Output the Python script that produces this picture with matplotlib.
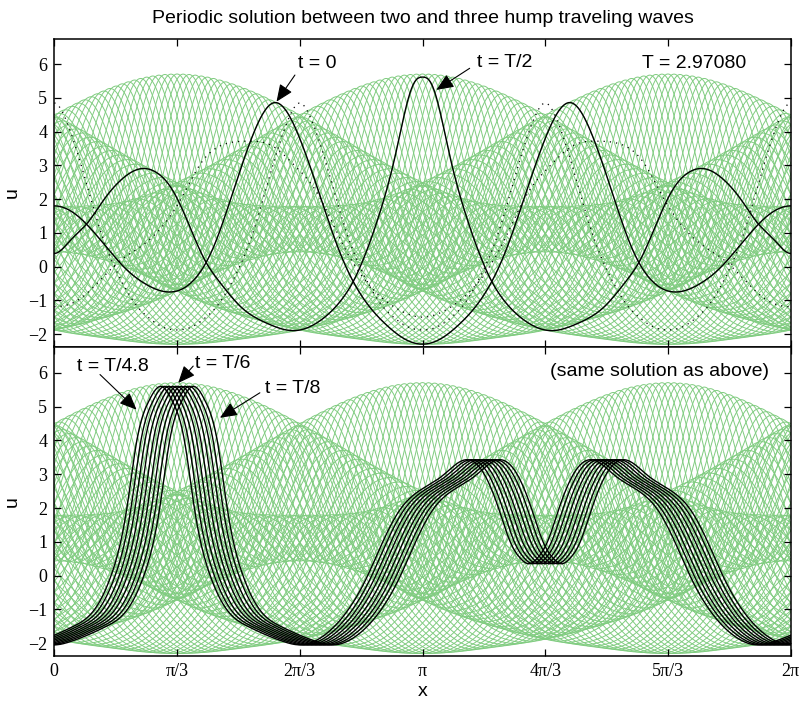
import numpy as np
import matplotlib
matplotlib.use("Agg")
import matplotlib.pyplot as plt

PI = np.pi

# ---- values ----
# t = 0 profile, read on [0, pi] (symmetric about 0 and pi)
T0_X = [0, 0.17, 0.37, 0.62, 0.77, 0.96, 1.19, 1.36, 1.53, 1.70, 1.873, 2.10,
        2.27, 2.44, 2.61, 2.84, 2.99, PI]
T0_U = [1.80, 1.58, 0.89, -0.10, -0.50, -0.75, -0.40, 0.59, 2.27, 3.95, 4.86,
        3.75, 2.07, 0.39, -0.80, -1.75, -2.15, -2.30]

# t = T/2 profile, read on [0, pi]
TH_X = [0, 0.14, 0.28, 0.42, 0.57, 0.68, 0.765, 0.88, 0.99, 1.13, 1.28, 1.42,
        1.59, 1.82, 2.04, 2.27, 2.44, 2.56, 2.69, 2.80, 2.91, 3.01, 3.07, PI]
TH_U = [0.39, 0.79, 1.28, 1.97, 2.57, 2.84, 2.91, 2.77, 2.37, 1.40, 0.22,
        -0.50, -1.19, -1.69, -1.90, -1.60, -1.03, -0.38, 0.70, 1.85, 3.30,
        4.85, 5.45, 5.62]

# t = T/6 profile (bottom panel, middle curve), read on [pi/3, 4pi/3]
T6_X = [PI / 3, 1.15, 1.25, 1.335, 1.47, 1.61, 1.79, 2.094, 2.25, 2.45, 2.65,
        2.80, 2.93, 3.08, 3.23, 3.45, 3.657, 3.80, 3.93, 4.03, 4.12, 4 * PI / 3]
T6_U = [5.60, 5.15, 4.00, 2.00, 0.00, -1.00, -1.50, -1.95, -2.05, -1.75, -1.00,
        -0.10, 0.90, 1.90, 2.45, 2.95, 3.43, 3.05, 2.00, 1.00, 0.50, 0.35]
# x-offsets of the nine bottom curves (t = T/8 ... T/4.8) from the T/6 one
BOTTOM_SHIFTS = [0.14, 0.105, 0.07, 0.035, 0.0, -0.035, -0.07, -0.105, -0.14]

# dotted: three hump wave, distance from crest on [0, pi/3]
HUMP3_D = [0, 0.1, 0.2, 0.3, 0.4, 0.5, 0.6, 0.7, 0.8, 0.9, PI / 3]
HUMP3_U = [4.85, 4.35, 3.35, 2.15, 1.00, 0.10, -0.60, -1.15, -1.50, -1.75, -1.88]

# dotted: second wave, read on [0, pi]
DOT2_X = [0, 0.2, 0.57, 0.74, 1.08, 1.25, 1.47, 1.66, 1.85, 2.05, 2.24, 2.47,
          2.70, 2.95, PI]
DOT2_U = [-1.19, -1.00, 0.20, 0.60, 2.00, 3.06, 3.65, 3.72, 3.60, 3.00, 2.20,
          0.60, -0.60, -1.30, -1.50]

T_PERIOD = "2.97080"
N_FRAMES = 96

XTICK_LABELS = ["0", "π/3", "2π/3", "π", "4π/3", "5π/3", "2π"]

GREEN = "#80cc80"


def periodic_spline(xk, yk, xq, period=2 * PI):
    """Periodic cubic spline through (xk, yk)."""
    xk = np.asarray(xk, float)
    yk = np.asarray(yk, float)
    n = len(xk)
    h = np.diff(np.append(xk, xk[0] + period))
    A = np.zeros((n, n))
    r = np.zeros(n)
    for i in range(n):
        hm, hp = h[i - 1], h[i]
        A[i, (i - 1) % n] += hm / 6
        A[i, i] += (hm + hp) / 3
        A[i, (i + 1) % n] += hp / 6
        r[i] = (yk[(i + 1) % n] - yk[i]) / hp - (yk[i] - yk[i - 1]) / hm
    M = np.linalg.solve(A, r)
    xm = np.mod(xq - xk[0], period) + xk[0]
    idx = np.clip(np.searchsorted(xk, xm, side="right") - 1, 0, n - 1)
    hi = h[idx]
    b = (xm - xk[idx]) / hi
    a = 1 - b
    j = (idx + 1) % n
    return a * yk[idx] + b * yk[j] + ((a**3 - a) * M[idx] + (b**3 - b) * M[j]) * hi**2 / 6


def mirror_knots(xs, us, axis):
    """Profile read on [axis, axis+pi], symmetric about axis and axis+pi."""
    xs = np.asarray(xs, float)
    us = np.asarray(us, float)
    inner = (xs > axis + 1e-9) & (xs < axis + PI - 1e-9)
    X = np.concatenate([np.mod(xs, 2 * PI), np.mod(2 * axis - xs[inner], 2 * PI)])
    U = np.concatenate([us, us[inner]])
    order = np.argsort(X)
    return X[order], U[order]


def hump3_knots(ds, us):
    ds = np.asarray(ds, float)
    us = np.asarray(us, float)
    inner = (ds > 1e-9) & (ds < PI / 3 - 1e-9)
    X1 = np.concatenate([ds, 2 * PI / 3 - ds[inner]])
    U1 = np.concatenate([us, us[inner]])
    X = np.concatenate([X1 + 2 * PI / 3 * j for j in range(3)])
    U = np.tile(U1, 3)
    order = np.argsort(X)
    return X[order], U[order]


xx = np.linspace(0, 2 * PI, 900)

u_t0 = periodic_spline(*mirror_knots(T0_X, T0_U, 0.0), xx)
u_th = periodic_spline(*mirror_knots(TH_X, TH_U, 0.0), xx)
t6_knots = mirror_knots(T6_X, T6_U, PI / 3)
u_h3 = periodic_spline(*hump3_knots(HUMP3_D, HUMP3_U), xx)
u_d2 = periodic_spline(*mirror_knots(DOT2_X, DOT2_U, 0.0), xx)

# ---- two-phase torus fit F(3x + 6 pi s, 2x + 2 pi s + pi) of the t=0, T/2 snapshots ----
MODES = [(m, n) for m in range(0, 5) for n in range(-7, 8)
         if (m > 0 or n >= 0) and abs(m) + abs(n) <= 8]
WEIGHT = np.array([0.7 ** (abs(m) + abs(n)) for m, n in MODES])


def columns(x, s):
    th3 = 3 * x + 6 * PI * s
    th2 = 2 * x + 2 * PI * s + PI
    return np.stack([np.cos(m * th3 + n * th2) for m, n in MODES], axis=1)


A = np.vstack([columns(xx, 0.0) * WEIGHT, columns(xx, 0.5) * WEIGHT,
               0.02 * np.eye(len(MODES))])
b = np.concatenate([u_t0, u_th, np.zeros(len(MODES))])
coef = np.linalg.lstsq(A, b, rcond=None)[0] * WEIGHT


def frame(k):
    return columns(xx, k / N_FRAMES) @ coef


# ---- figure ----
plt.rcParams["font.family"] = ["Liberation Sans", "DejaVu Sans"]
fig = plt.figure(figsize=(8.01, 7.02), dpi=100)
W, H = 801.0, 702.0
ax1 = fig.add_axes([54.3 / W, 1 - 346.5 / H, 736.4 / W, 307.2 / H])
ax2 = fig.add_axes([54.3 / W, 1 - 656.0 / H, 736.4 / W, 309.5 / H])

for ax in (ax1, ax2):
    for k in range(N_FRAMES):
        ax.plot(xx, frame(k), color=GREEN, lw=0.7, zorder=1)

ax1.plot(xx, u_h3, color="k", lw=0.9, ls=(0, (1, 4)), zorder=2)
ax1.plot(xx, u_d2, color="k", lw=0.9, ls=(0, (1, 4)), zorder=2)
ax1.plot(xx, u_t0, color="k", lw=1.0, zorder=3)
ax1.plot(xx, u_th, color="k", lw=1.0, zorder=3)

for dx in BOTTOM_SHIFTS:
    ax2.plot(xx, periodic_spline(t6_knots[0], t6_knots[1], xx - dx),
             color="k", lw=1.0, zorder=3)

xticks = np.arange(7) * PI / 3
for ax, ylim in ((ax1, (-2.37, 6.74)), (ax2, (-2.38, 6.78))):
    ax.set_xlim(0, 2 * PI)
    ax.set_ylim(*ylim)
    ax.set_xticks(xticks)
    ax.set_yticks(range(-2, 7))
    ax.tick_params(direction="in", length=5, width=0.9, top=True, right=True,
                   labelsize=13, pad=5)
    for sp in ax.spines.values():
        sp.set_linewidth(1.1)
    ax.set_ylabel("u", fontsize=14, labelpad=5)
    ax.set_yticklabels([str(v).replace("-", "−") for v in range(-2, 7)],
                       family="Liberation Serif")

ax1.set_xticklabels([])
ax2.set_xticklabels(XTICK_LABELS, family="Liberation Serif")
ax2.set_xlabel("x", fontsize=14, labelpad=2)

fig.text(422.5 / W, 1 - 23 / H,
         "Periodic solution between two and three hump traveling waves",
         ha="center", va="baseline", fontsize=14)

arrow = dict(arrowstyle="-|>,head_length=0.75,head_width=0.32", color="k",
             lw=0.8, mutation_scale=14, shrinkA=0, shrinkB=0)

ax1.text(2.076, 5.89, "t = 0", fontsize=14, ha="left", va="baseline")
ax1.annotate("", xy=(1.896, 4.89), xytext=(2.053, 5.68), arrowprops=arrow)
ax1.text(3.603, 5.92, "t = T/2", fontsize=14, ha="left", va="baseline")
ax1.annotate("", xy=(3.26, 5.24), xytext=(3.544, 5.88), arrowprops=arrow)
ax1.text(5.905, 5.89, "T = " + T_PERIOD, fontsize=14, ha="right", va="baseline")

ax2.text(0.194, 6.05, "t = T/4.8", fontsize=14, ha="left", va="baseline")
ax2.annotate("", xy=(0.702, 4.91), xytext=(0.39, 5.95), arrowprops=arrow)
ax2.text(1.199, 6.15, "t = T/6", fontsize=14, ha="left", va="baseline")
ax2.annotate("", xy=(1.057, 5.70), xytext=(1.185, 6.2), arrowprops=arrow)
ax2.text(1.796, 5.41, "t = T/8", fontsize=14, ha="left", va="baseline")
ax2.annotate("", xy=(1.413, 4.67), xytext=(1.754, 5.41), arrowprops=arrow)
ax2.text(6.10, 5.92, "(same solution as above)", fontsize=14, ha="right",
         va="baseline")

fig.savefig("out.png", dpi=100)
